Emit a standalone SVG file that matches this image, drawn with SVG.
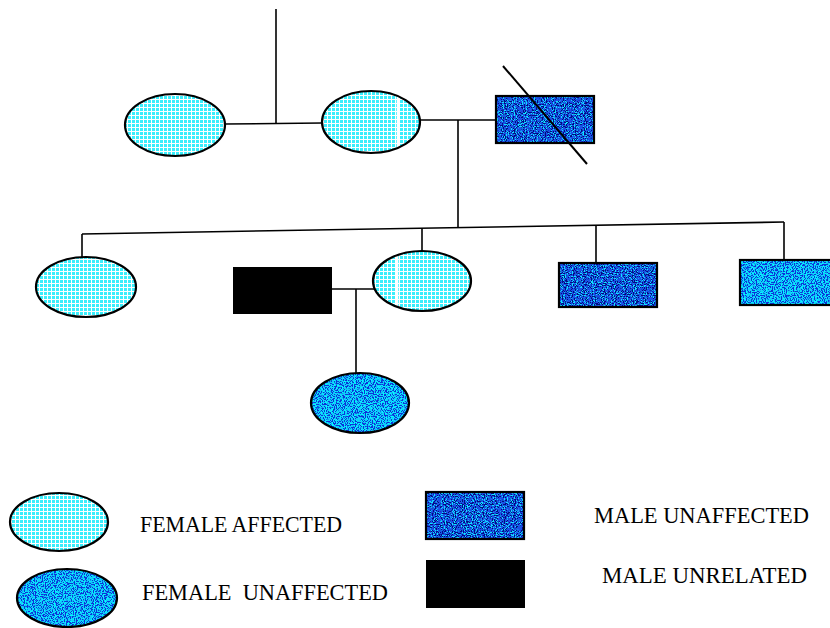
<svg xmlns="http://www.w3.org/2000/svg" width="830" height="628" viewBox="0 0 830 628">
<style>
.ln{stroke:#000;stroke-width:1.6;fill:none}
.ol{fill:none;stroke:#000;stroke-width:2.2}
.fa{fill:url(#grid)}
.mu{fill:#1a50e6;filter:url(#spDark)}
.fu{fill:#10cdf8;filter:url(#spMid)}
.blk{fill:#000}
.streak{stroke:#fff;stroke-width:2.5}
text{font-family:"Liberation Serif","Times New Roman",serif;font-size:24px;fill:#000}
</style>
<defs>
<pattern id="grid" width="4" height="4" patternUnits="userSpaceOnUse">
<rect width="4" height="4" fill="#ffffff"/>
<rect width="3" height="3" fill="#3aeefc"/>
</pattern>
<filter id="spDark" x="0" y="0" width="100%" height="100%" color-interpolation-filters="sRGB">
<feTurbulence type="fractalNoise" baseFrequency="0.9" numOctaves="1" seed="4" result="n"/>
<feColorMatrix in="n" type="matrix" values="0 0 0 0 0.05  0 0 0 0 0.9  0 0 0 0 1  20 0 0 0 -10.8" result="c"/>
<feColorMatrix in="n" type="matrix" values="0 0 0 0 0  0 0 0 0 0.05  0 0 0 0 0.5  0 20 0 0 -10.8" result="d"/>
<feMerge result="m"><feMergeNode in="SourceGraphic"/><feMergeNode in="c"/><feMergeNode in="d"/></feMerge>
<feComposite in="m" in2="SourceAlpha" operator="in"/>
</filter>
<filter id="spMid" x="0" y="0" width="100%" height="100%" color-interpolation-filters="sRGB">
<feTurbulence type="fractalNoise" baseFrequency="0.9" numOctaves="1" seed="9" result="n"/>
<feColorMatrix in="n" type="matrix" values="0 0 0 0 0  0 0 0 0 1  0 0 0 0 1  20 0 0 0 -10.8" result="c"/>
<feColorMatrix in="n" type="matrix" values="0 0 0 0 0.05  0 0 0 0 0.2  0 0 0 0 0.85  0 20 0 0 -10.2" result="d"/>
<feMerge result="m"><feMergeNode in="SourceGraphic"/><feMergeNode in="c"/><feMergeNode in="d"/></feMerge>
<feComposite in="m" in2="SourceAlpha" operator="in"/>
</filter>
</defs>
<rect width="830" height="628" fill="#fff"/>

<g id="connectors">
<line class="ln" x1="276" y1="9" x2="276" y2="124"/>
<line class="ln" x1="225" y1="124" x2="322" y2="123"/>
<line class="ln" x1="420" y1="120" x2="496" y2="120"/>
<line class="ln" x1="458" y1="120" x2="458" y2="228"/>
<line class="ln" x1="82" y1="234" x2="784" y2="222"/>
<line class="ln" x1="82" y1="234" x2="82" y2="257"/>
<line class="ln" x1="422" y1="228" x2="422" y2="252"/>
<line class="ln" x1="596" y1="225" x2="596" y2="263"/>
<line class="ln" x1="784" y1="222" x2="784" y2="260"/>
<line class="ln" x1="332" y1="289" x2="374" y2="289"/>
<line class="ln" x1="356" y1="289" x2="356" y2="373"/>
</g>

<g id="gen1-female-left">
<ellipse class="fa" cx="175" cy="125" rx="50" ry="31"/>
<ellipse class="ol" cx="175" cy="125" rx="50" ry="31"/>
</g>
<g id="gen1-female-mid">
<ellipse class="fa" cx="371" cy="122" rx="49" ry="31"/>
<line class="streak" x1="398" y1="93" x2="398" y2="151"/>
<ellipse class="ol" cx="371" cy="122" rx="49" ry="31"/>
</g>
<g id="gen1-male-deceased">
<rect class="mu" x="496" y="96" width="98" height="47"/>
<rect class="ol" x="496" y="96" width="98" height="47"/>
<line x1="503" y1="66" x2="587" y2="164" stroke="#000" stroke-width="2"/>
</g>

<g id="gen2-female-1">
<ellipse class="fa" cx="86" cy="287" rx="50" ry="30"/>
<ellipse class="ol" cx="86" cy="287" rx="50" ry="30"/>
</g>
<g id="gen2-male-unrelated">
<rect class="blk" x="233" y="267" width="99" height="47"/>
</g>
<g id="gen2-female-2">
<ellipse class="fa" cx="422" cy="281" rx="49" ry="30"/>
<line class="streak" x1="397" y1="254" x2="397" y2="309"/>
<ellipse class="ol" cx="422" cy="281" rx="49" ry="30"/>
</g>
<g id="gen2-male-1">
<rect class="mu" x="559" y="263" width="98" height="44"/>
<rect class="ol" x="559" y="263" width="98" height="44"/>
</g>
<g id="gen2-male-2">
<rect class="fu" x="740" y="260" width="95" height="45"/>
<rect class="ol" x="740" y="260" width="95" height="45"/>
</g>

<g id="gen3-female">
<ellipse class="fu" cx="360" cy="403" rx="49" ry="30"/>
<ellipse class="ol" cx="360" cy="403" rx="49" ry="30"/>
</g>

<g id="legend-female-affected">
<ellipse class="fa" cx="59" cy="522" rx="49" ry="29"/>
<ellipse class="ol" cx="59" cy="522" rx="49" ry="29"/>
<text x="140" y="532" textLength="202" lengthAdjust="spacingAndGlyphs">FEMALE AFFECTED</text>
</g>
<g id="legend-female-unaffected">
<ellipse class="fu" cx="67" cy="598" rx="50" ry="29"/>
<ellipse class="ol" cx="67" cy="598" rx="50" ry="29"/>
<text x="142" y="600" textLength="246" lengthAdjust="spacingAndGlyphs" xml:space="preserve">FEMALE  UNAFFECTED</text>
</g>
<g id="legend-male-unaffected">
<rect class="mu" x="426" y="492" width="98" height="47"/>
<rect class="ol" x="426" y="492" width="98" height="47"/>
<text x="594" y="523" textLength="215" lengthAdjust="spacingAndGlyphs">MALE UNAFFECTED</text>
</g>
<g id="legend-male-unrelated">
<rect class="blk" x="426" y="560" width="99" height="48"/>
<text x="602" y="583" textLength="205" lengthAdjust="spacingAndGlyphs">MALE UNRELATED</text>
</g>
</svg>
